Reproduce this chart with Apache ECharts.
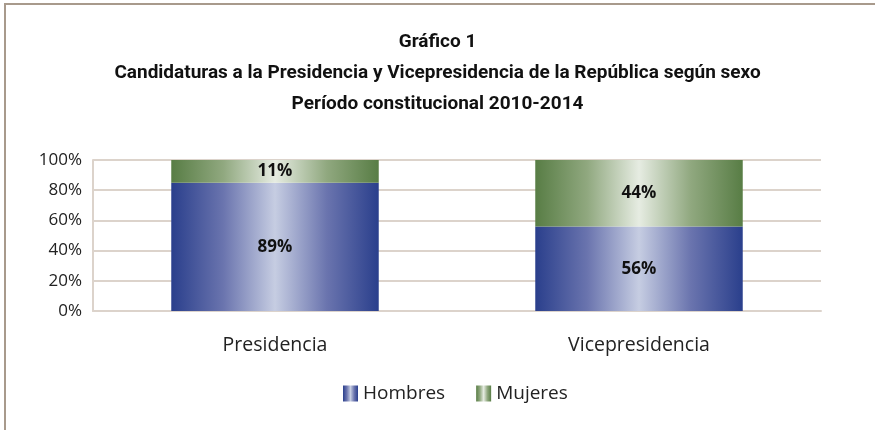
<!DOCTYPE html>
<html>
<head>
<meta charset="utf-8">
<script src="https://cdn.jsdelivr.net/npm/echarts@6/dist/echarts.min.js"></script>
<style>
  html, body { margin: 0; padding: 0; background: #fff; }
  #chart { width: 875px; height: 430px; }
</style>
</head>
<body>
<div id="chart"></div>
<script>
// datos
const categorias = ['Presidencia', 'Vicepresidencia']
const hombres = [85, 56]
const mujeres = [15, 44]
const etiquetasHombres = ['89%', '56%']
const etiquetasMujeres = ['11%', '44%']
const ticksY = [0, 20, 40, 60, 80, 100]

const chart = echarts.init(document.getElementById('chart'))

const barGradient = (edge, mid, center) => new echarts.graphic.LinearGradient(0, 0, 1, 0, [
  { offset: 0, color: edge },
  { offset: 0.25, color: mid },
  { offset: 0.5, color: center },
  { offset: 0.75, color: mid },
  { offset: 1, color: edge }
])

const blue = barGradient('#2a3f8c', '#6a74ae', '#c6cde2')
const green = barGradient('#587d45', '#90a87f', '#e6ece2')

const labelStyle = (texts) => ({
  show: true,
  position: 'inside',
  formatter: p => texts[p.dataIndex],
  fontFamily: 'Open Sans',
  fontWeight: 'bold',
  fontSize: 17,
  color: '#111'
})

const option = {
  animation: false,
  title: {
    text: 'Gráfico 1\nCandidaturas a la Presidencia y Vicepresidencia de la República según sexo\nPeríodo constitucional 2010-2014',
    left: 'center',
    top: 22,
    textStyle: {
      fontFamily: 'Roboto',
      fontWeight: 'bold',
      fontSize: 19,
      lineHeight: 31,
      color: '#111'
    }
  },
  graphic: [
    {
      type: 'rect',
      shape: { x: 5, y: 4, width: 900, height: 500 },
      style: { fill: 'none', stroke: '#a89a8c', lineWidth: 2 },
      silent: true
    }
  ],
  legend: {
    bottom: 27,
    left: 343,
    padding: 0,
    itemWidth: 15,
    itemHeight: 16,
    itemGap: 31,
    icon: 'rect',
    textStyle: { fontFamily: 'Open Sans', fontSize: 19, color: '#222' },
    data: ['Hombres', 'Mujeres']
  },
  grid: { left: 93, right: 54, top: 160, bottom: 119 },
  xAxis: {
    type: 'category',
    data: categorias,
    axisLine: { lineStyle: { color: '#dcd3cb', width: 2 } },
    axisTick: { show: false },
    axisLabel: { margin: 24, fontFamily: 'Open Sans', fontSize: 19.5, color: '#222' }
  },
  yAxis: {
    type: 'value',
    min: 0,
    max: 100,
    interval: 20,
    axisLine: { show: true, lineStyle: { color: '#dcd3cb', width: 2 } },
    axisTick: { show: false },
    splitLine: { lineStyle: { color: '#dcd3cb', width: 2 } },
    axisLabel: {
      margin: 11,
      fontFamily: 'Open Sans',
      fontSize: 17,
      color: '#222',
      formatter: v => ticksY.includes(v) ? v + '%' : ''
    }
  },
  series: [
    {
      name: 'Hombres',
      type: 'bar',
      stack: 'total',
      barWidth: '57%',
      data: hombres,
      itemStyle: { color: blue },
      label: labelStyle(etiquetasHombres)
    },
    {
      name: 'Mujeres',
      type: 'bar',
      stack: 'total',
      barWidth: '57%',
      data: mujeres,
      itemStyle: { color: green },
      label: labelStyle(etiquetasMujeres)
    }
  ]
}

chart.setOption(option)
</script>
</body>
</html>
